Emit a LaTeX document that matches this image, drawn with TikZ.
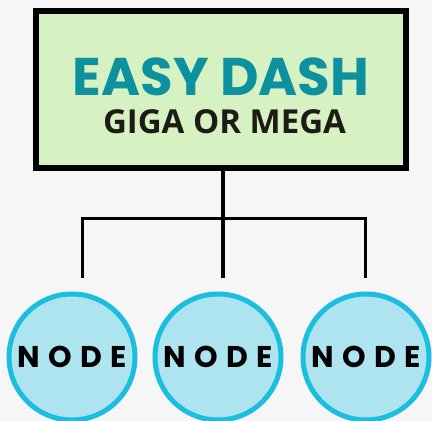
\documentclass[tikz,border=0pt]{standalone}
\usepackage{fontspec}
\setmainfont{Open Sans}
\newfontfamily\popfont{Poppins}
\definecolor{bgc}{HTML}{F6F6F6}
\definecolor{boxfill}{HTML}{D7F2C2}
\definecolor{titlec}{HTML}{0D919E}
\definecolor{subc}{HTML}{1E1A16}
\definecolor{ringc}{HTML}{1BBEDF}
\definecolor{circfill}{HTML}{AEE4EF}
\begin{document}
\begin{tikzpicture}[x=1pt,y=-1pt,
  topbox/.style={draw=black,line width=6pt,fill=boxfill,minimum width=370pt,minimum height=157pt,inner sep=0pt},
  circnode/.style={circle,draw=ringc,line width=5pt,fill=circfill,minimum size=126pt,inner sep=0pt,
    font=\popfont\bfseries\fontsize{30}{31}\selectfont\addfontfeature{LetterSpace=27}},
  textlabel/.style={inner sep=0pt,anchor=base},
  conn/.style={draw=black,line width=3pt},
  trunk/.style={draw=black,line width=4.5pt}]
\fill[bgc] (0,0) rectangle (432,421);
\useasboundingbox (0,0) rectangle (432,421);
\node[topbox] (top) at (221,89.5) {};
\node[textlabel,text=titlec,font=\popfont\bfseries\fontsize{53}{54}\selectfont] (title) at (221,95) {EASY DASH};
\node[textlabel,text=subc,font=\bfseries\fontsize{33}{35}\selectfont] (sub) at (224.5,133) {GIGA OR MEGA};
\node[circnode] (n1) at (72,357) {NODE};
\node[circnode] (n2) at (218,357) {NODE};
\node[circnode] (n3) at (366,357) {NODE};
\coordinate (j) at (223,218);
\coordinate (e1) at (82,278);
\coordinate (e2) at (223,278);
\coordinate (e3) at (365,278);
\draw[trunk] (top.south -| j) -- (e2);
\draw[conn] (e1) -- (e1 |- j) -- (e3 |- j) -- (e3);
\end{tikzpicture}
\end{document}
